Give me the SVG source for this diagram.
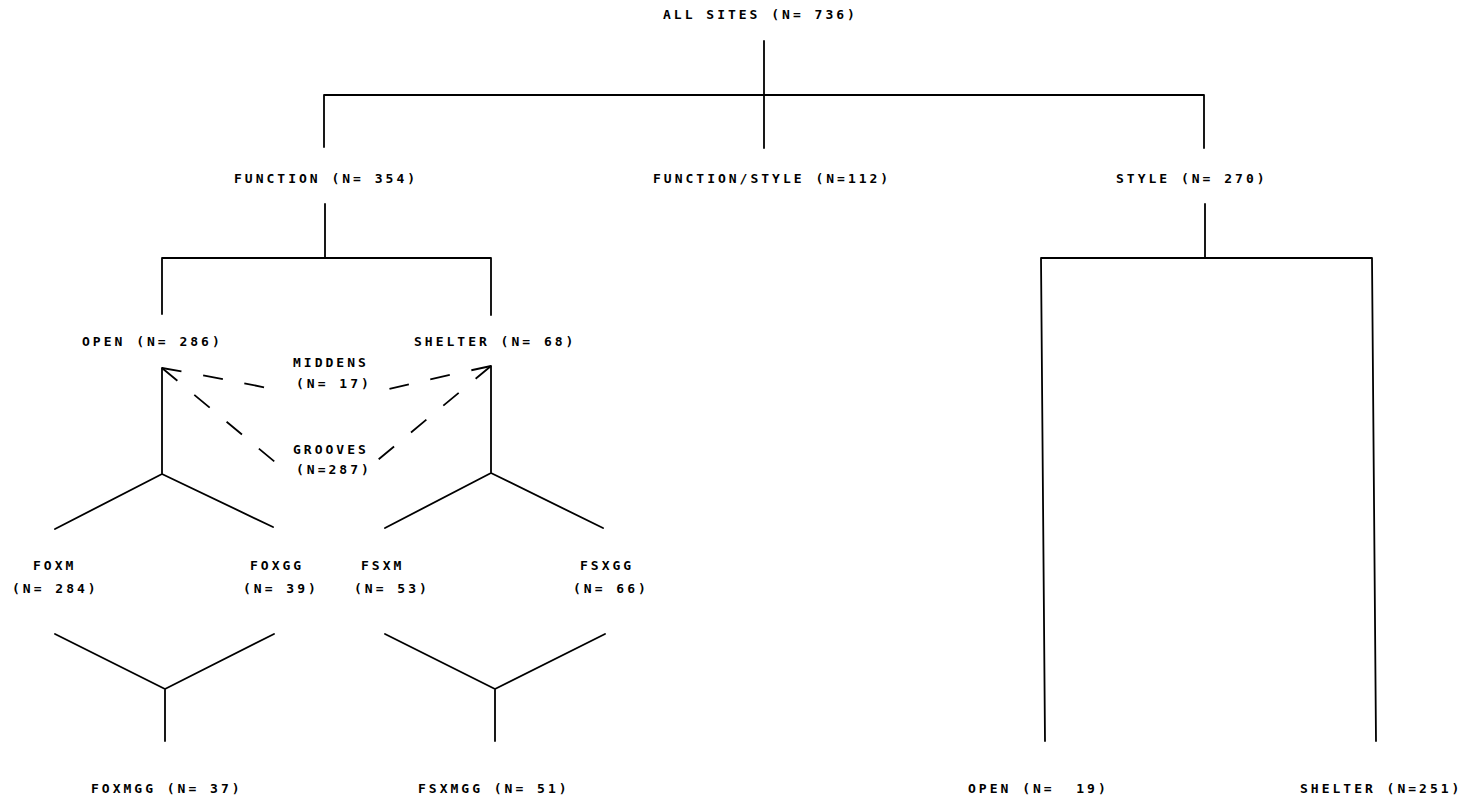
<svg xmlns="http://www.w3.org/2000/svg" width="1469" height="804" viewBox="0 0 1469 804">
<style>
text{font-family:"DejaVu Sans Mono","Liberation Mono",monospace;font-weight:bold;font-size:13px;letter-spacing:3px;fill:#000}
.ln{stroke:#000;stroke-width:1.8;fill:none;stroke-linecap:round;stroke-linejoin:round}
.ds{stroke:#000;stroke-width:1.8;fill:none;stroke-dasharray:20 22}
</style>
<rect width="1469" height="804" fill="#fff"/>
<g id="connectors">
<path class="ln" d="M764,41V148M324,147V95H1204V148"/>
<path class="ln" d="M325,204V258M162,314V258H491V315"/>
<path class="ln" d="M1205,204V258M1045,741L1041,258H1372L1376,741"/>
<path class="ln" d="M162,368V474M55,529L162,474L273,527"/>
<path class="ln" d="M491,366V473M385,528L491,473L603,528"/>
<path class="ln" d="M55,634L165,689L274,634M165,689V741"/>
<path class="ln" d="M385,634L495,689L605,634M495,689V741"/>
<path class="ds" d="M162,368Q215,377 272,389"/>
<path class="ds" d="M491,366Q435,378 380,391"/>
<path class="ds" d="M162,368L275,462"/>
<path class="ds" d="M491,366L373,464"/>
</g>
<g id="all-sites"><text x="663" y="19">ALL SITES (N= 736)</text></g>
<g id="function"><text x="234" y="183">FUNCTION (N= 354)</text></g>
<g id="function-style"><text x="653" y="183">FUNCTION/STYLE (N=112)</text></g>
<g id="style"><text x="1116" y="183">STYLE (N= 270)</text></g>
<g id="open"><text x="82" y="346">OPEN (N= 286)</text></g>
<g id="shelter"><text x="414" y="346">SHELTER (N= 68)</text></g>
<g id="middens"><text x="293" y="367">MIDDENS</text><text x="296" y="388">(N= 17)</text></g>
<g id="grooves"><text x="293" y="454">GROOVES</text><text x="296" y="474">(N=287)</text></g>
<g id="foxm"><text x="33" y="570">FOXM</text><text x="12" y="593">(N= 284)</text></g>
<g id="foxgg"><text x="250" y="570">FOXGG</text><text x="243" y="593">(N= 39)</text></g>
<g id="fsxm"><text x="361" y="570">FSXM</text><text x="354" y="593">(N= 53)</text></g>
<g id="fsxgg"><text x="580" y="570">FSXGG</text><text x="573" y="593">(N= 66)</text></g>
<g id="foxmgg"><text x="91" y="793">FOXMGG (N= 37)</text></g>
<g id="fsxmgg"><text x="418" y="793">FSXMGG (N= 51)</text></g>
<g id="style-open"><text x="968" y="793" xml:space="preserve">OPEN (N=  19)</text></g>
<g id="style-shelter"><text x="1300" y="793">SHELTER (N=251)</text></g>
</svg>
